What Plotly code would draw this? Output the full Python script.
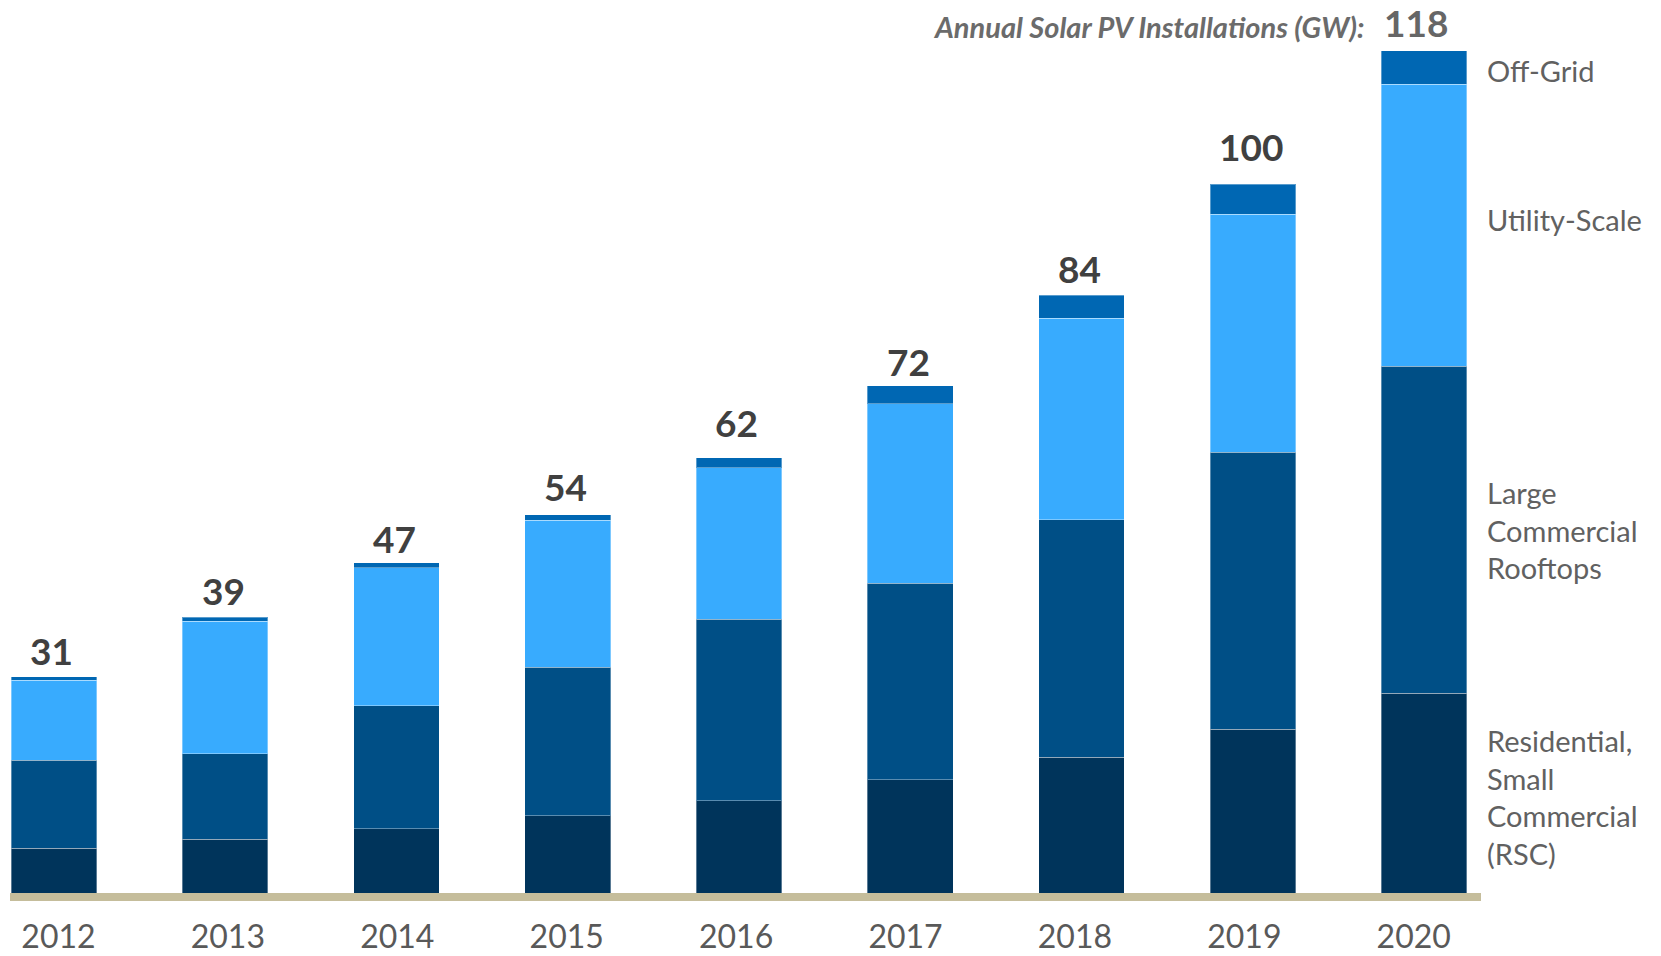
import plotly.graph_objects as go

years = ["2012", "2013", "2014", "2015", "2016", "2017", "2018", "2019", "2020"]
rsc = [7.2, 8.4, 9.9, 11.7, 13.8, 16.7, 19.8, 23.7, 28.7]
large_commercial = [12.2, 11.9, 17.1, 20.6, 25.2, 27.3, 33.0, 38.5, 45.4]
utility = [11.1, 18.4, 19.1, 20.4, 21.0, 24.9, 28.0, 33.0, 39.2]
off_grid = [0.5, 0.55, 0.7, 0.8, 1.4, 2.5, 3.2, 4.2, 4.6]
total_labels = ["31", "39", "47", "54", "62", "72", "84", "100", "118"]

series_names = ["Residential,<br>Small<br>Commercial<br>(RSC)",
                "Large<br>Commercial<br>Rooftops",
                "Utility-Scale",
                "Off-Grid"]
series_values = [rsc, large_commercial, utility, off_grid]
series_colors = ["#00345B", "#004F86", "#38ABFE", "#0067B3"]

# styling constants (pixel nudges for labels)
label_yshift = [2, 2, 0, 4, 11, 0, 2, 13, 4]
side_yshift = [0, 0, 6, -3]

FONT = "Lato"
xpos = list(range(len(years)))

fig = go.Figure()
for name, vals, col in zip(series_names, series_values, series_colors):
    fig.add_trace(go.Bar(
        x=xpos, y=vals, name=name,
        marker=dict(color=col, line=dict(color="rgba(255,255,255,0.35)", width=1)),
        width=0.5, hoverinfo="y+name",
    ))

totals = [sum(s[i] for s in series_values) for i in range(len(years))]

# invisible trace carrying the year tick labels on a second x axis
fig.add_trace(go.Scatter(x=xpos, y=totals, mode="none", xaxis="x2",
                         hoverinfo="skip", showlegend=False))

annotations = []
for i, (t, lab) in enumerate(zip(totals, total_labels)):
    last = i == len(years) - 1
    annotations.append(dict(
        x=xpos[i], y=t, xref="x", yref="y", text=f"<b>{lab}</b>", showarrow=False,
        yanchor="bottom", yshift=label_yshift[i], xshift=-8 if last else -2,
        font=dict(family=FONT, size=37, color="#666666" if last else "#404040"),
    ))

# Title-like annotation next to the last total
annotations.append(dict(
    x=xpos[-1], y=totals[-1], xref="x", yref="y",
    text="<b><i>Annual Solar PV Installations (GW):</i></b>", showarrow=False,
    xanchor="right", yanchor="bottom", yshift=5, xshift=-57,
    font=dict(family=FONT, size=29, color="#6b6b6b"),
))

# Series labels on the right of the last bar
cum = 0
for k, (name, vals) in enumerate(zip(series_names, series_values)):
    v = vals[-1]
    center = cum + v / 2
    cum += v
    annotations.append(dict(
        x=1, y=center, xref="paper", yref="y", text=name, showarrow=False,
        xanchor="left", yanchor="middle", align="left", xshift=4,
        yshift=side_yshift[k],
        font=dict(family=FONT, size=29, color="#616161"),
    ))

fig.update_layout(
    width=1661, height=956,
    barmode="stack", showlegend=False,
    plot_bgcolor="white", paper_bgcolor="white",
    margin=dict(l=10, r=180, t=30, b=63, autoexpand=False),
    xaxis=dict(range=[-0.256, 8.332], showline=True, linewidth=8, automargin=False,
               linecolor="#C5BD9B", ticks="", showgrid=False, zeroline=False,
               showticklabels=False),
    xaxis2=dict(range=[-0.286, 8.397], overlaying="x", side="bottom", anchor="y",
                automargin=False,
                showline=False, ticks="", showgrid=False, zeroline=False,
                tickmode="array", tickvals=xpos, ticktext=years,
                ticklabelstandoff=22,
                tickfont=dict(family=FONT, size=32, color="#595959")),
    yaxis=dict(range=[0.97, 120.8], visible=False, showgrid=False, zeroline=False,
               automargin=False),
    annotations=annotations,
)

fig.write_html("out.html", config={"displayModeBar": False},
               post_script="document.body.style.margin='0';")
